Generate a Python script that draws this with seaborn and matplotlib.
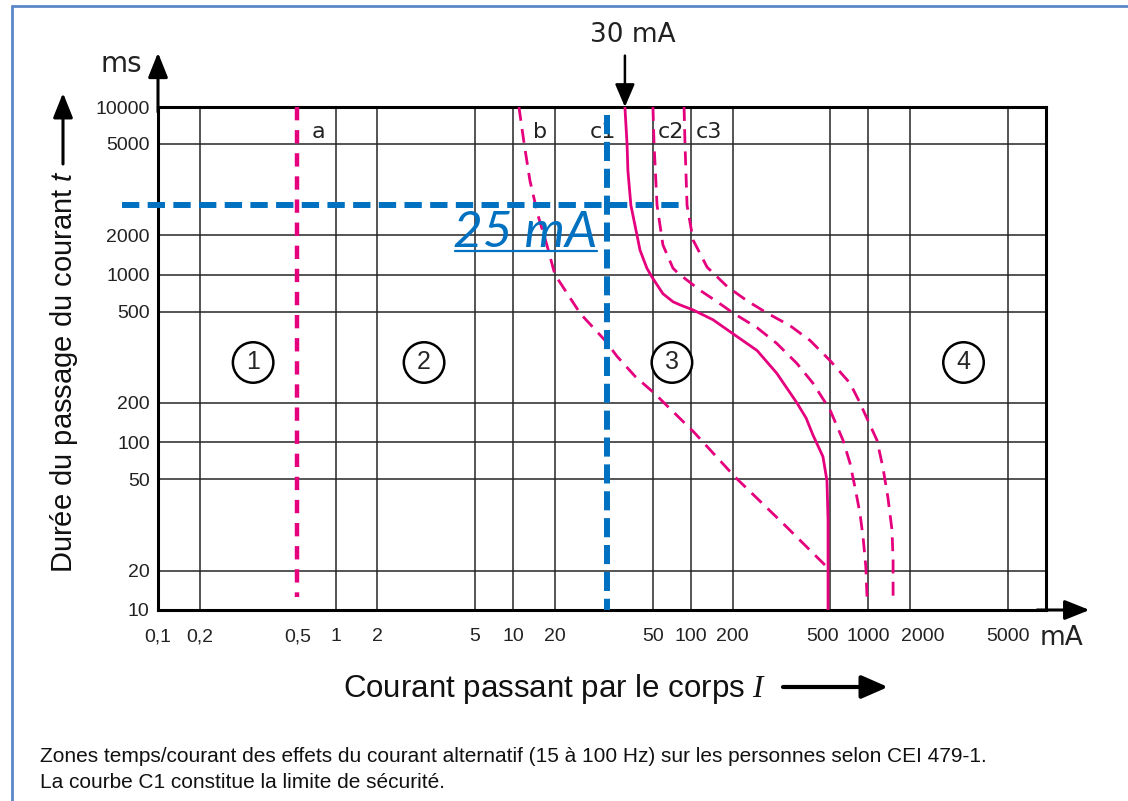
import numpy as np
import pandas as pd
import matplotlib
matplotlib.use("Agg")
import matplotlib.pyplot as plt
from matplotlib.lines import Line2D
from matplotlib.transforms import IdentityTransform, ScaledTranslation
import seaborn as sns

# axis ticks / grid
x_ticks = [0.1, 0.2, 0.5, 1, 2, 5, 10, 20, 50, 100, 200, 500, 1000, 2000, 5000]
x_tick_labels = ["0,1", "0,2", "0,5", "1", "2", "5", "10", "20", "50",
                 "100", "200", "500", "1000", "2000", "5000"]
x_grid = [0.2, 1, 2, 5, 10, 20, 50, 100, 200, 500, 1000, 2000, 5000]
y_ticks = [10, 20, 50, 100, 200, 500, 1000, 2000, 5000, 10000]
y_tick_labels = [str(v) for v in y_ticks]
y_grid = [20, 50, 100, 200, 500, 1000, 2000, 5000]

# curves (current mA, time ms)
b_I = [11.0, 12.0, 13.2, 15.1, 17.5, 20.0, 22.3, 24.8, 27.7, 36.2, 51.3, 105, 205, 327, 490]
b_t = [10000, 5000, 3460, 2440, 1685, 1000, 490, 374, 319, 261, 221, 120, 52, 31.5, 20.5]
c1_I = [30, 31.2, 31.7, 33.5, 37.5, 39.6, 45, 49.5, 60.3, 72.4, 82.1, 104, 145, 201,
        252, 303, 366, 399, 425, 467, 485, 490, 490]
c1_t = [10000, 5000, 3820, 2700, 2000, 1543, 1120, 953, 699, 601, 567, 515, 460, 400,
        338, 269, 200, 153, 114, 76.5, 49.2, 33, 10]
c2_I = [50.3, 51.3, 54.2, 60.3, 72.4, 79.3, 117, 155, 201, 252, 303, 366, 425, 499,
        630, 715, 785, 859, 908, 955, 975]
c2_t = [10000, 5000, 2700, 1685, 1120, 1028, 743, 601, 493, 425, 363, 297, 244, 177,
        104, 68, 45.9, 35.4, 27.9, 20.7, 12.6]
c3_I = [88.5, 90, 93.4, 104, 131, 183, 229, 276, 343, 414, 499, 715, 859, 908,
        1152, 1274, 1383, 1480, 1507, 1507]
c3_t = [10000, 5000, 2700, 1835, 1142, 800, 613, 493, 434, 374, 306, 244, 200, 177,
        104, 62, 41.6, 30, 22.2, 12.6]
a_I = [0.5, 0.5]
a_t = [10000, 12.6]

# blue 25 mA marks
blue_h_I = [0.052, 82]
blue_h_t = [2700, 2700]
blue_v_I = [25, 25]
blue_v_t = [8600, 10]

curve_names = ["a", "b", "c1", "c2", "c3"]
curve_label_I = [0.727, 15.6, 24.6, 69.9, 135]
curve_label_t = 5600

zone_names = ["1", "2", "3", "4"]
zone_I = [0.33, 3.1, 71, 3300]
zone_t = 300

MAGENTA = "#E5007D"
BLUE = "#0070C0"

# stylised log scale of the original chart (1-2-5 spacing is not true log)
def make_knots(fracs, extra):
    vals, pos = [], []
    for e in range(-4, 7):
        for m, f in zip([1, 2, 5], fracs):
            vals.append(m * 10.0 ** e)
            pos.append(e + f)
    for v, f in extra.items():
        vals.append(v)
        pos.append(np.floor(np.log10(v)) + f)
    order = np.argsort(vals)
    return np.log10(np.array(vals)[order]), np.array(pos)[order]

x_lk, x_pos = make_knots([0, 0.235, 0.785], {25: 0.528, 30: 0.629})
y_lk, y_pos = make_knots([0, 0.235, 0.78], {})

def fwd_x(v):
    return np.interp(np.log10(np.clip(v, 1e-9, None)), x_lk, x_pos)

def inv_x(u):
    return 10 ** np.interp(u, x_pos, x_lk)

def fwd_y(v):
    return np.interp(np.log10(np.clip(v, 1e-9, None)), y_lk, y_pos)

def inv_y(u):
    return 10 ** np.interp(u, y_pos, y_lk)


sns.set_theme(style="white")
plt.rcParams["font.family"] = ["Liberation Sans", "DejaVu Sans"]
plt.rcParams["mathtext.fontset"] = "custom"
plt.rcParams["mathtext.it"] = "Liberation Serif:italic"
plt.rcParams["mathtext.sf"] = "Liberation Sans:italic"
plt.rcParams["mathtext.rm"] = "Liberation Sans"

W, H = 1128, 801
fig = plt.figure(figsize=(W / 100, H / 100), dpi=100)
ax = fig.add_axes([158 / W, 1 - 610 / H, 888 / W, 503 / H])
ax.set_xscale("function", functions=(fwd_x, inv_x))
ax.set_yscale("function", functions=(fwd_y, inv_y))

# grid
ax.vlines(x_grid, 10, 10000, color="#262626", lw=1.1, zorder=1)
ax.hlines(y_grid, 0.1, 10000, color="#262626", lw=1.1, zorder=1)

# magenta curves
df = pd.concat([
    pd.DataFrame({"I": b_I, "t": b_t, "courbe": "b"}),
    pd.DataFrame({"I": c1_I, "t": c1_t, "courbe": "c1"}),
    pd.DataFrame({"I": c2_I, "t": c2_t, "courbe": "c2"}),
    pd.DataFrame({"I": c3_I, "t": c3_t, "courbe": "c3"}),
], ignore_index=True)
sns.lineplot(data=df, x="I", y="t", hue="courbe", style="courbe",
             palette={k: MAGENTA for k in ["b", "c1", "c2", "c3"]},
             dashes={"b": (5, 3), "c1": "", "c2": (5, 3), "c3": (5, 3)},
             sort=False, estimator=None, lw=2, legend=False, ax=ax, zorder=3)
for ln in ax.get_lines():
    ln.set_solid_joinstyle("round")
    ln.set_dash_joinstyle("round")
ax.plot(a_I, a_t, color=MAGENTA, lw=3.2, dashes=(3, 2.2), zorder=3)
ax.set_xlabel("")
ax.set_ylabel("")

ax.set_xlim(0.1, 10000)
ax.set_ylim(10, 10000)
ax.set_xticks(x_ticks, x_tick_labels)
ax.set_yticks(y_ticks, y_tick_labels)
ax.minorticks_off()
ax.grid(False)
ax.tick_params(which="both", length=0)
ax.tick_params(axis="x", pad=13, labelsize=14, labelcolor="#222222")
ax.tick_params(axis="y", pad=6, labelsize=14, labelcolor="#222222")
for s in ax.spines.values():
    s.set_color("black")
    s.set_linewidth(2.2)
# the original nudges two crowded labels
label_shift = {"500": -8, "2000": 13}
for lab in ax.get_xticklabels():
    if lab.get_text() in label_shift:
        lab.set_transform(lab.get_transform() +
                          ScaledTranslation(label_shift[lab.get_text()] / 100, 0,
                                            fig.dpi_scale_trans))

for name, xi in zip(curve_names, curve_label_I):
    ax.text(xi, curve_label_t, name, ha="center", va="baseline", fontsize=16,
            family="DejaVu Sans", color="#222222", zorder=3)

for name, xi in zip(zone_names, zone_I):
    ax.text(xi, zone_t, name, ha="center", va="center", fontsize=18, zorder=5,
            bbox=dict(boxstyle="circle,pad=0.33", fc="white", ec="black", lw=1.8))

# blue 25 mA lines
ax.plot(blue_h_I, blue_h_t, color=BLUE, lw=4.3, dashes=(2.9, 1.4), zorder=6, clip_on=False)
ax.plot(blue_v_I, blue_v_t, color=BLUE, lw=4.3, dashes=(3.2, 1.3), zorder=6)
t25 = ax.text(24.0, 1630, "25 mA", ha="right", va="baseline", fontsize=37,
              style="italic", color=BLUE, family=["Lato", "Liberation Sans"],
              zorder=6)

# 30 mA arrow
ax.annotate("", xy=(30, 10000), xytext=(0, 37), textcoords="offset points",
            arrowprops=dict(arrowstyle="-|>,head_length=0.7,head_width=0.3",
                            color="black", lw=1.8, shrinkA=0, shrinkB=0,
                            mutation_scale=20), annotation_clip=False)
ax.annotate("30 mA", xy=(30, 10000), xytext=(6, 47), textcoords="offset points",
            ha="center", va="baseline", fontsize=19, family="DejaVu Sans",
            color="#222222", annotation_clip=False)

# axis arrows
ax.annotate("", xy=(0, 1.108), xycoords="axes fraction", xytext=(0, 0.99),
            arrowprops=dict(arrowstyle="-|>,head_length=0.75,head_width=0.3",
                            color="black", lw=2.2, shrinkA=0, shrinkB=0,
                            mutation_scale=20), annotation_clip=False)
ax.annotate("", xy=(1.049, 0), xycoords="axes fraction", xytext=(0.99, 0),
            arrowprops=dict(arrowstyle="-|>,head_length=0.75,head_width=0.3",
                            color="black", lw=2.2, shrinkA=0, shrinkB=0,
                            mutation_scale=20), annotation_clip=False)

def px(x, y):
    return x / W, 1 - y / H

fig.text(*px(142, 72), "ms", ha="right", va="baseline", fontsize=20,
         family="DejaVu Sans", color="#222222")
fig.text(*px(1040, 645), "mA", ha="left", va="baseline", fontsize=19,
         family="DejaVu Sans", color="#222222")

fig.text(*px(64, 372), "Durée du passage du courant $\\mathsf{t}$", rotation=90,
         ha="center", va="center", fontsize=21, color="#111111")
fig.add_artist(plt.Annotation("", xy=px(63, 93), xycoords="figure fraction",
                              xytext=px(63, 164), textcoords="figure fraction",
                              arrowprops=dict(arrowstyle="-|>,head_length=0.75,head_width=0.3",
                                              color="black", lw=2.2, shrinkA=0, shrinkB=0,
                                              mutation_scale=20)))
fig.text(*px(555, 697), "Courant passant par le corps $I$", ha="center",
         va="baseline", fontsize=22.5, color="#111111")
fig.add_artist(plt.Annotation("", xy=px(888, 687), xycoords="figure fraction",
                              xytext=px(783, 687), textcoords="figure fraction",
                              arrowprops=dict(arrowstyle="-|>,head_length=0.8,head_width=0.35",
                                              color="black", lw=3, shrinkA=0, shrinkB=0,
                                              mutation_scale=20)))

fig.text(*px(40, 762), "Zones temps/courant des effets du courant alternatif (15 à 100 Hz) "
         "sur les personnes selon CEI 479-1.", ha="left", va="baseline",
         fontsize=15, color="#111111")
fig.text(*px(40, 788), "La courbe C1 constitue la limite de sécurité.", ha="left",
         va="baseline", fontsize=15, color="#111111")

# page frame (left and top edges)
fig.add_artist(Line2D([12 / W, 12 / W], [0, 1 - 6 / H], transform=fig.transFigure,
                      color="#5B87C7", lw=2))
fig.add_artist(Line2D([12 / W, 1], [1 - 6 / H, 1 - 6 / H], transform=fig.transFigure,
                      color="#5B87C7", lw=2))

# underline of the 25 mA label
fig.canvas.draw()
bb = t25.get_window_extent()
base_y = ax.transData.transform((24.0, 1630))[1]
fig.add_artist(Line2D([bb.x0 + 2, bb.x1], [base_y - 4, base_y - 4],
                      transform=IdentityTransform(), color=BLUE, lw=1.6))

fig.savefig("out.png", dpi=100)
